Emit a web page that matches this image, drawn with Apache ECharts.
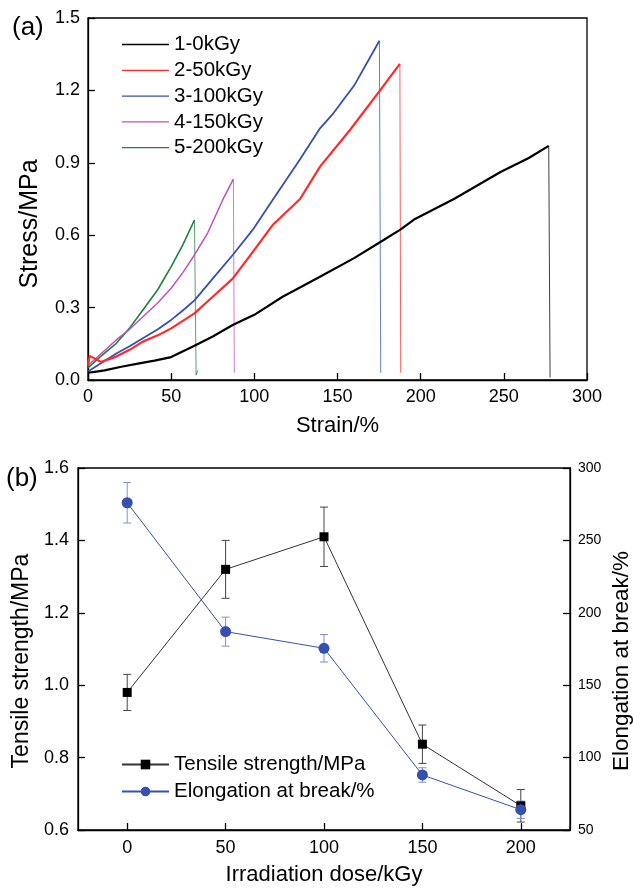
<!DOCTYPE html>
<html><head><meta charset="utf-8">
<script src="https://cdn.jsdelivr.net/npm/echarts@6/dist/echarts.min.js"></script>
<style>html,body{margin:0;padding:0;background:#fff}#c{width:633px;height:889px}</style>
</head><body><div id="c"></div>
<script>
// ---- (a) stress-strain curves ----
const strain1 = [0,5,10,20,30,40,50,64,75,87,100,117,128,140,160,177,188,196,220,248,265,277,277.8];
const stress1 = [0.03,0.035,0.04,0.055,0.068,0.08,0.095,0.142,0.18,0.228,0.27,0.345,0.385,0.43,0.505,0.577,0.624,0.665,0.75,0.862,0.92,0.97,0.01];
const strain2 = [0,1,8,17,25,33,42,50,57,64,75,87,99,111,127.5,139.5,157.5,175.6,187.5,188];
const stress2 = [0.06,0.1,0.075,0.097,0.125,0.159,0.185,0.214,0.245,0.276,0.345,0.42,0.53,0.642,0.75,0.884,1.036,1.2,1.31,0.03];
const strain3 = [0,8,17,25,33,42,50,57,64,75,87,99,111,127.5,139.5,147.5,160,175.2,176];
const stress3 = [0.035,0.07,0.11,0.14,0.173,0.21,0.249,0.288,0.33,0.42,0.518,0.622,0.746,0.915,1.043,1.105,1.22,1.406,0.03];
const strain4 = [0,8,17,25,33,42,50,57,64,72,81,87.4,88];
const stress4 = [0.06,0.11,0.166,0.21,0.262,0.32,0.38,0.445,0.518,0.61,0.746,0.832,0.03];
const strain5 = [0,8,17,25,33,42,50,57,64,65,66];
const stress5 = [0.05,0.1,0.152,0.215,0.29,0.375,0.47,0.56,0.663,0.02,0.04];
const curveNames = ['1-0kGy','2-50kGy','3-100kGy','4-150kGy','5-200kGy'];
const curveColors = ['#000000','#ff2a2a','#3550b0','#c050c0','#20803c'];
const curveWidths = [2.2,2.2,1.8,1.5,1.6];
const breakIndex = [21,18,17,11,8]; // index of the peak point before the break
const labelX = [279,193.6,164.6,85,62.4];
const labelY = [1.07,1.32,1.402,0.89,0.735];
const labelText = ['1','2','3','4','5'];

// ---- (b) properties vs dose ----
const doses = [0,50,100,150,200];
const tensile = [0.98,1.32,1.41,0.837,0.667];
const tensileErr = [0.05,0.08,0.082,0.053,0.045];
const elong = [276,187,175.5,88,64];
const elongErr = [14,10,9.5,5,6];
const doseTicks = [0,50,100,150,200];

const FF = '"Liberation Sans", Arial, sans-serif';
const chart = echarts.init(document.getElementById('c'), null, {renderer:'canvas'});

const strains = [strain1,strain2,strain3,strain4,strain5];
const stresses = [stress1,stress2,stress3,stress4,stress5];
const curveSeries = [];
strains.forEach((xs,i)=>{
  const pts = xs.map((x,j)=>[x, stresses[i][j]]);
  const b = breakIndex[i];
  curveSeries.push({
    name: curveNames[i], type:'line', xAxisIndex:0, yAxisIndex:0,
    showSymbol:false, symbol:'none',
    data: pts.slice(0, b+1),
    lineStyle:{color:curveColors[i], width:curveWidths[i]},
    itemStyle:{color:curveColors[i]},
    z: 2 + (5-i)
  });
  curveSeries.push({
    type:'line', xAxisIndex:0, yAxisIndex:0, showSymbol:false, symbol:'none', silent:true,
    data: pts.slice(b),
    lineStyle:{color:curveColors[i], width:1, opacity:0.75},
    z: 2
  });
});

function errSeries(vals, errs, yIdx, color){
  return {
    type:'custom', xAxisIndex:1, yAxisIndex:yIdx, z:3, silent:true,
    data: doses.map((d,i)=>[d, vals[i]-errs[i], vals[i]+errs[i]]),
    renderItem:(params, api)=>{
      const lo = api.coord([api.value(0), api.value(1)]);
      const hi = api.coord([api.value(0), api.value(2)]);
      const w = 4;
      const st = {stroke:color, lineWidth:1};
      return {type:'group', children:[
        {type:'line', shape:{x1:lo[0],y1:lo[1],x2:hi[0],y2:hi[1]}, style:st},
        {type:'line', shape:{x1:lo[0]-w,y1:lo[1],x2:lo[0]+w,y2:lo[1]}, style:st},
        {type:'line', shape:{x1:hi[0]-w,y1:hi[1],x2:hi[0]+w,y2:hi[1]}, style:st}
      ]};
    }
  };
}

const axisCommon = {
  axisLine:{show:true, onZero:false, lineStyle:{color:'#000', width:1.3}},
  axisTick:{show:true, inside:true, length:7, lineStyle:{color:'#000', width:1.3}},
  splitLine:{show:false},
  nameTextStyle:{fontFamily:FF, fontSize:22, color:'#000'},
};

const option = {
  animation:false,
  backgroundColor:'#fff',
  textStyle:{fontFamily:FF},
  grid:[
    {left:88, top:18, width:499, height:362, show:true, borderColor:'#000', borderWidth:1.3, backgroundColor:'transparent'},
    {left:78, top:468, width:492, height:362, show:true, borderColor:'#000', borderWidth:1.3, backgroundColor:'transparent'}
  ],
  xAxis:[
    Object.assign({}, axisCommon, {type:'value', gridIndex:0, min:0, max:300, interval:50,
      name:'Strain/%', nameLocation:'middle', nameGap:35,
      axisLabel:{fontFamily:FF, fontSize:18, color:'#000', margin:8}}),
    Object.assign({}, axisCommon, {type:'value', gridIndex:1, min:-25, max:225,
      name:'Irradiation dose/kGy', nameLocation:'middle', nameGap:34,
      axisTick:{show:true, inside:true, length:7, customValues:doseTicks, lineStyle:{color:'#000', width:1.3}},
      axisLabel:{fontFamily:FF, fontSize:18, color:'#000', margin:9, customValues:doseTicks}})
  ],
  yAxis:[
    Object.assign({}, axisCommon, {type:'value', gridIndex:0, min:0, max:1.5, interval:0.3,
      axisLabel:{fontFamily:FF, fontSize:18, color:'#000', margin:8, formatter:v=>v.toFixed(1)}}),
    Object.assign({}, axisCommon, {type:'value', gridIndex:1, min:0.6, max:1.6, interval:0.2,
      axisLabel:{fontFamily:FF, fontSize:18, color:'#000', margin:9, formatter:v=>v.toFixed(1)}}),
    Object.assign({}, axisCommon, {type:'value', gridIndex:1, position:'right', min:50, max:300, interval:50,
      axisLabel:{fontFamily:FF, fontSize:14, color:'#000', margin:8}})
  ],
  legend:[
    {data:curveNames, orient:'vertical', left:117, top:29, itemWidth:47, itemHeight:1.3, itemGap:4.8,
      icon:'rect',
      textStyle:{fontFamily:FF, fontSize:20.5, color:'#000'}},
    {data:['Tensile strength/MPa','Elongation at break/%'], orient:'vertical', left:116, top:749,
      itemWidth:47, itemHeight:12, itemGap:6,
      textStyle:{fontFamily:FF, fontSize:20.5, color:'#000'}}
  ],
  graphic:[
    {type:'text', left:12, top:15, style:{text:'(a)', fontFamily:FF, fontSize:26, fill:'#000'}},
    {type:'text', left:6, top:466, style:{text:'(b)', fontFamily:FF, fontSize:26, fill:'#000'}},
    {type:'text', x:30, y:224, rotation:Math.PI/2,
      style:{text:'Stress/MPa', fontFamily:FF, fontSize:25, fill:'#000', align:'center', verticalAlign:'middle'}},
    {type:'text', x:22, y:661, rotation:Math.PI/2,
      style:{text:'Tensile strength/MPa', fontFamily:FF, fontSize:23, fill:'#000', align:'center', verticalAlign:'middle'}},
    {type:'text', x:622, y:661, rotation:Math.PI/2,
      style:{text:'Elongation at break/%', fontFamily:FF, fontSize:22.5, fill:'#000', align:'center', verticalAlign:'middle'}}
  ],
  series: curveSeries.concat([
    {type:'scatter', xAxisIndex:0, yAxisIndex:0, symbolSize:1, itemStyle:{opacity:0}, silent:true,
      data: labelX.map((x,i)=>[x, labelY[i], labelText[i]]),
      label:{show:true, position:'inside', formatter:p=>p.data[2], fontFamily:FF, fontSize:16, color:'#000'}},
    errSeries(tensile, tensileErr, 1, '#444'),
    errSeries(elong, elongErr, 2, '#8090d0'),
    {name:'Tensile strength/MPa', type:'line', xAxisIndex:1, yAxisIndex:1, z:5,
      data: doses.map((d,i)=>[d, tensile[i]]), symbol:'rect', symbolSize:9,
      lineStyle:{color:'#333', width:1}, itemStyle:{color:'#000'}},
    {name:'Elongation at break/%', type:'line', xAxisIndex:1, yAxisIndex:2, z:5,
      data: doses.map((d,i)=>[d, elong[i]]), symbol:'circle', symbolSize:11,
      lineStyle:{color:'#3550b0', width:1}, itemStyle:{color:'#3550b0'}}
  ])
};
chart.setOption(option);
</script></body></html>
